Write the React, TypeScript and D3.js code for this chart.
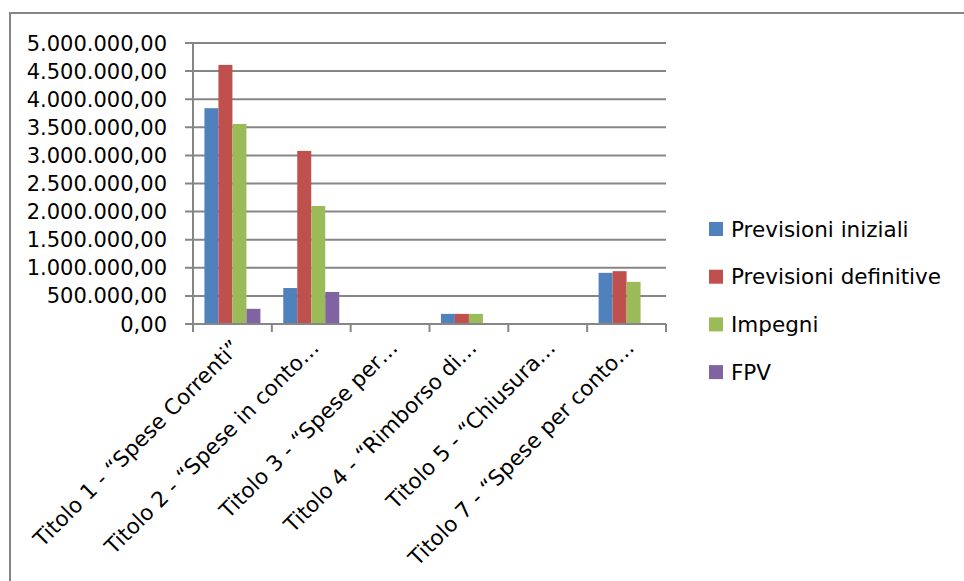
import React from "react";
import * as d3 from "d3";

const categories = [
  "Titolo 1 - \u201cSpese Correnti\u201d",
  "Titolo 2 - \u201cSpese in conto\u2026",
  "Titolo 3 - \u201cSpese per\u2026",
  "Titolo 4 - \u201cRimborso di\u2026",
  "Titolo 5 - \u201cChiusura\u2026",
  "Titolo 7 - \u201cSpese per conto\u2026",
];
const seriesNames = ["Previsioni iniziali", "Previsioni definitive", "Impegni", "FPV"];
const previsioniIniziali = [3840000, 640000, 0, 180000, 0, 910000];
const previsioniDefinitive = [4610000, 3080000, 0, 180000, 0, 940000];
const impegni = [3560000, 2100000, 0, 180000, 0, 750000];
const fpv = [270000, 570000, 0, 0, 0, 0];
const seriesValues = [previsioniIniziali, previsioniDefinitive, impegni, fpv];
const colors = ["#4F81BD", "#C0504D", "#9BBB59", "#8064A2"];
const yTicks = [0, 500000, 1000000, 1500000, 2000000, 2500000, 3000000, 3500000, 4000000, 4500000, 5000000];

const fmt = (v: number) => {
  const s = Math.round(v).toString().replace(/\B(?=(\d{3})+(?!\d))/g, ".");
  return s + ",00";
};

export default function App() {
  const W = 964, H = 581;
  const left = 193, right = 666, top = 43, bottom = 324;
  const font = "'DejaVu Sans', sans-serif";
  const x0 = d3.scaleBand<string>().domain(categories).range([left, right]).padding(0);
  const bw = x0.bandwidth();
  const x1 = d3.scaleBand<string>().domain(seriesNames).range([bw * 0.145, bw * 0.855]).padding(0);
  const y = d3.scaleLinear().domain([0, 5000000]).range([bottom, top]);
  const grid = "#868686";
  const boundaries = [...categories.map((c) => x0(c) as number), right];

  return (
    <svg width={W} height={H} style={{ position: "absolute", left: 0, top: 0, display: "block", background: "#fff" }}>
      <rect x={10} y={13} width={W} height={H} fill="#fff" stroke={grid} strokeWidth={2} />
      {yTicks.map((t) => (
        <g key={t}>
          <line x1={185} x2={right} y1={y(t)} y2={y(t)} stroke={grid} strokeWidth={2} />
          <text x={167} y={y(t) + 7.5} textAnchor="end" fontFamily={font} fontSize={21} fill="#000">
            {fmt(t)}
          </text>
        </g>
      ))}
      <line x1={left} x2={left} y1={top} y2={bottom} stroke={grid} strokeWidth={2} />
      {boundaries.map((b, i) => (
        <line key={i} x1={b} x2={b} y1={bottom} y2={332} stroke={grid} strokeWidth={2} />
      ))}
      {categories.map((c, ci) => (
        <g key={c}>
          {seriesNames.map((s, si) => {
            const v = seriesValues[si][ci];
            return (
              <rect
                key={s}
                x={(x0(c) as number) + (x1(s) as number)}
                width={x1.bandwidth()}
                y={y(v)}
                height={bottom - y(v)}
                fill={colors[si]}
              />
            );
          })}
        </g>
      ))}
      <line x1={left} x2={right} y1={bottom} y2={bottom} stroke={grid} strokeWidth={2} />
      {categories.map((c) => {
        const cx = (x0(c) as number) + bw / 2;
        return (
          <text
            key={c}
            transform={`translate(${cx + 9},${349}) rotate(-45)`}
            textAnchor="end"
            fontFamily={font}
            fontSize={21.5}
            fill="#000"
          >
            {c}
          </text>
        );
      })}
      {seriesNames.map((s, i) => {
        const ly = 229 + i * 47.7;
        return (
          <g key={s}>
            <rect x={709} y={ly - 7} width={14} height={14} fill={colors[i]} />
            <text x={731} y={ly + 7.5} fontFamily={font} fontSize={21.5} fill="#000">
              {s}
            </text>
          </g>
        );
      })}
    </svg>
  );
}
